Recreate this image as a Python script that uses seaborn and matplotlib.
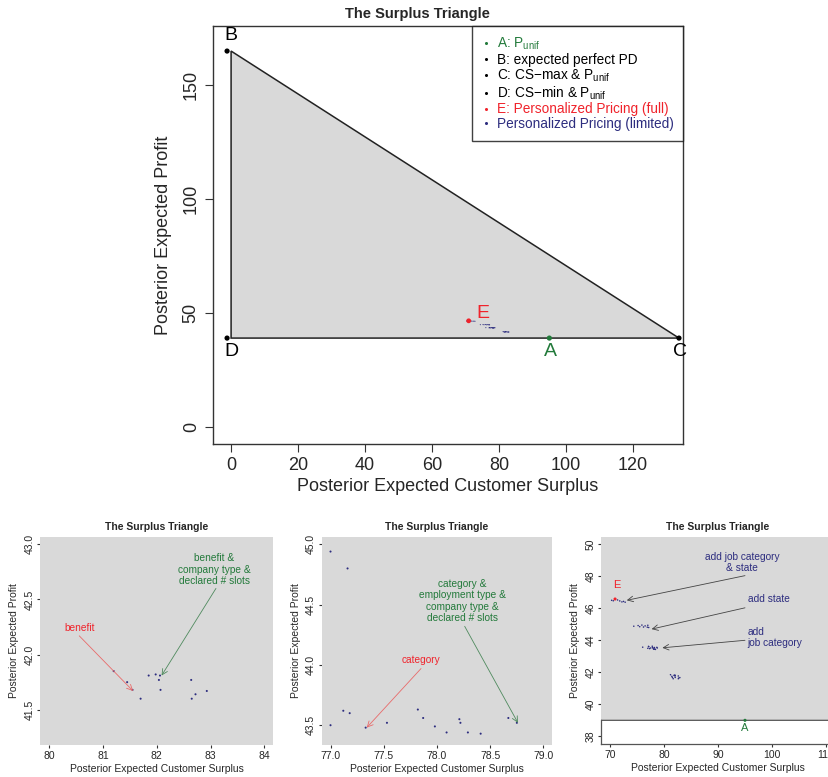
import matplotlib
matplotlib.use("Agg")
import matplotlib.pyplot as plt
from matplotlib.lines import Line2D
import pandas as pd
import seaborn as sns

sns.set_style("white")
plt.rcParams["font.family"] = ["Liberation Sans", "DejaVu Sans"]
plt.rcParams["mathtext.default"] = "regular"
plt.rcParams["mathtext.fontset"] = "custom"
plt.rcParams["mathtext.rm"] = "Liberation Sans"

GREEN = "#237a3b"
RED = "#f0232b"
NAVY = "#2d2d7f"
FILL = "#d9d9d9"

# Corner points of the surplus triangle
corner_names = ["A", "B", "C", "D"]
corner_cs = [95.0, -1.2, 133.7, -1.2]
corner_profit = [39.0, 165.0, 39.0, 39.0]
corner_colors = [GREEN, "black", "black", "black"]

# Triangle outline
tri_cs = [0.0, 133.7, 0.0]
tri_profit = [165.0, 39.0, 39.0]

# Personalized pricing with full information
full_cs = [70.93]
full_profit = [46.58]

# Personalized pricing with limited feature sets
lim_cs = [
    70.3, 70.6, 71.4, 71.8, 72.2, 72.5, 72.8,
    74.4, 75.2, 75.5, 75.9, 76.2, 76.5, 76.90, 77.00, 77.16,
    76.05, 77.00, 77.12, 77.18, 77.33, 77.53, 77.82, 77.87, 77.98,
    78.09, 78.21, 78.22, 78.29, 78.41, 78.67, 78.75,
    81.20, 81.45, 81.55, 81.70, 81.85, 81.98, 82.04, 82.06, 82.07,
    82.64, 82.65, 82.72, 82.93,
]
lim_profit = [
    46.50, 46.47, 46.52, 46.46, 46.40, 46.43, 46.38,
    44.88, 44.92, 44.85, 44.95, 44.83, 44.90, 44.82, 44.94, 44.80,
    43.57, 43.50, 43.62, 43.60, 43.48, 43.52, 43.63, 43.56, 43.49,
    43.44, 43.55, 43.52, 43.44, 43.43, 43.56, 43.52,
    41.85, 41.75, 41.68, 41.60, 41.81, 41.82, 41.77, 41.81, 41.68,
    41.77, 41.60, 41.64, 41.67,
]

corners = pd.DataFrame({"cs": corner_cs, "profit": corner_profit, "name": corner_names})
full = pd.DataFrame({"cs": full_cs, "profit": full_profit})
limited = pd.DataFrame({"cs": lim_cs, "profit": lim_profit})

TITLE = "The Surplus Triangle"
XLAB = "Posterior Expected Customer Surplus"
YLAB = "Posterior Expected Profit"

W, H = 829, 777
fig = plt.figure(figsize=(W / 100, H / 100), dpi=100)


def px_axes(left, top, right, bottom):
    return fig.add_axes([left / W, 1 - bottom / H, (right - left) / W, (bottom - top) / H])


def style_axes(ax, fs, ticklen, pad, xlabpad, ylabpad):
    ax.tick_params(axis="both", which="both", direction="out", length=ticklen,
                   width=0.8, color="#333333", labelsize=fs, pad=pad,
                   bottom=True, left=True, top=False, right=False)
    for lab in ax.get_yticklabels():
        lab.set_rotation(90)
        lab.set_va("center")
    ax.set_xlabel(XLAB, fontsize=fs, labelpad=xlabpad)
    ax.set_ylabel(YLAB, fontsize=fs, labelpad=ylabpad)


# ---------------- main triangle ----------------
ax = px_axes(213, 26, 683, 444)
ax.fill(tri_cs, tri_profit, facecolor=FILL, edgecolor="#222222", lw=1.1, zorder=1)
sns.scatterplot(data=corners, x="cs", y="profit", hue="name",
                palette=dict(zip(corner_names, corner_colors)), s=14,
                edgecolor="none", legend=False, ax=ax, zorder=3)
sns.scatterplot(data=full, x="cs", y="profit", color=RED, s=12,
                edgecolor="none", ax=ax, zorder=4)
sns.scatterplot(data=limited, x="cs", y="profit", color=NAVY, s=0.6,
                edgecolor="none", ax=ax, zorder=3)
ax.set_xlim(-5.4, 134.9)
ax.set_ylim(-7.5, 176)
ax.set_xticks([0, 20, 40, 60, 80, 100, 120])
ax.set_yticks([0, 50, 100, 150])
for s in ax.spines.values():
    s.set_color("#333333")
    s.set_linewidth(1.0)
style_axes(ax, 13, 5.5, 4, 3, 8)
fig.text(417 / W, 1 - 14 / H, TITLE, fontsize=10.5, fontweight="bold",
         ha="center", va="center")

ax.text(0, 172, "B", fontsize=14, ha="center", va="center", color="black")
ax.text(0, 32.9, "D", fontsize=14, ha="center", va="center", color="black")
ax.text(134, 32.9, "C", fontsize=14, ha="center", va="center", color="black")
ax.text(95.2, 32.9, "A", fontsize=14, ha="center", va="center", color=GREEN)
ax.text(75.2, 49.6, "E", fontsize=14, ha="center", va="center", color=RED)

handles = [Line2D([], [], ls="none", marker="o", ms=2.2, color=c, mec="none")
           for c in [GREEN, "black", "black", "black", RED, NAVY]]
labels = [r"A: P$_{unif}$", "B: expected perfect PD", r"C: CS$-$max & P$_{unif}$",
          r"D: CS$-$min & P$_{unif}$", "E: Personalized Pricing (full)",
          "Personalized Pricing (limited)"]
leg = ax.legend(handles, labels, loc="upper right", bbox_to_anchor=(1, 1),
                borderaxespad=0, fontsize=9.8, frameon=True, fancybox=False,
                handlelength=0.6, handletextpad=0.5, labelspacing=0.05,
                borderpad=0.7)
leg.get_frame().set_edgecolor("#111111")
leg.get_frame().set_linewidth(1.0)
for t, c in zip(leg.get_texts(), [GREEN, "black", "black", "black", RED, NAVY]):
    t.set_color(c)


def zoom_panel(left, right, xlim, ylim, xticks, yticks, yfmt):
    a = px_axes(left, 536.6, right, 745)
    a.fill(tri_cs, tri_profit, facecolor=FILL, edgecolor="#555555", lw=0.9, zorder=1)
    sns.scatterplot(data=limited, x="cs", y="profit", color=NAVY, s=2.2,
                    edgecolor="none", ax=a, zorder=3)
    a.set_xlim(*xlim)
    a.set_ylim(*ylim)
    a.set_xticks(xticks)
    a.set_yticks(yticks)
    a.set_yticklabels([yfmt.format(v) for v in yticks])
    for s in a.spines.values():
        s.set_visible(False)
    style_axes(a, 7.5, 2.2, 2, 2, 4)
    a.set_title(TITLE, fontsize=7.5, fontweight="bold", pad=5)
    return a


# ---------------- zoom 1 ----------------
a1 = zoom_panel(40.5, 273, (79.84, 84.16), (41.18, 43.07),
                [80, 81, 82, 83, 84], [41.5, 42.0, 42.5, 43.0], "{:.1f}")
a1.annotate("", xy=(81.56, 41.67), xytext=(80.56, 42.17),
            arrowprops=dict(arrowstyle="->", color="#e86a6a", lw=0.6,
                            shrinkA=0, shrinkB=0), zorder=4)
a1.text(80.57, 42.24, "benefit", color=RED, fontsize=7.3, ha="center", va="center")
a1.annotate("", xy=(82.09, 41.81), xytext=(83.1, 42.6),
            arrowprops=dict(arrowstyle="->", color="#4f8a5e", lw=0.6,
                            shrinkA=0, shrinkB=0), zorder=4)
a1.text(83.07, 42.77, "benefit &\ncompany type &\ndeclared # slots", color=GREEN,
        fontsize=7.3, ha="center", va="center", linespacing=1.15)

# ---------------- zoom 2 ----------------
a2 = zoom_panel(322, 552, (76.92, 79.08), (43.336, 45.064),
                [77.0, 77.5, 78.0, 78.5, 79.0], [43.5, 44.0, 44.5, 45.0], "{:.1f}")
a2.annotate("", xy=(77.34, 43.48), xytext=(77.85, 43.97),
            arrowprops=dict(arrowstyle="->", color="#e86a6a", lw=0.6,
                            shrinkA=0, shrinkB=0), zorder=4)
a2.text(77.85, 44.04, "category", color=RED, fontsize=7.3, ha="center", va="center")
a2.annotate("", xy=(78.76, 43.52), xytext=(78.26, 44.32),
            arrowprops=dict(arrowstyle="->", color="#4f8a5e", lw=0.6,
                            shrinkA=0, shrinkB=0), zorder=4)
a2.text(78.24, 44.53, "category &\nemployment type &\ncompany type &\ndeclared # slots",
        color=GREEN, fontsize=7.3, ha="center", va="center", linespacing=1.15)

# ---------------- zoom 3 ----------------
a3 = px_axes(601.4, 536.6, 834.6, 744)
a3.fill(tri_cs, tri_profit, facecolor=FILL, edgecolor="#555555", lw=0.9, zorder=1)
sns.scatterplot(data=limited, x="cs", y="profit", color=NAVY, s=1.2,
                edgecolor="none", ax=a3, zorder=3)
sns.scatterplot(data=full, x="cs", y="profit", color=RED, s=5,
                edgecolor="none", ax=a3, zorder=4)
sns.scatterplot(data=corners[corners["name"] == "A"], x="cs", y="profit",
                color=GREEN, s=5, edgecolor="none", ax=a3, zorder=4)
a3.set_xlim(68.4, 111.6)
a3.set_ylim(37.52, 50.48)
a3.set_xticks([70, 80, 90, 100, 110])
a3.set_yticks([38, 40, 42, 44, 46, 48, 50])
a3.spines["top"].set_visible(False)
a3.spines["left"].set_bounds(37.52, 39.0)
a3.spines["right"].set_bounds(37.52, 39.0)
for s in a3.spines.values():
    s.set_color("#555555")
    s.set_linewidth(0.9)
style_axes(a3, 7.5, 2.2, 2, 2, 4)
a3.set_title(TITLE, fontsize=7.5, fontweight="bold", pad=5)
a3.text(71.2, 47.45, "E", color=RED, fontsize=8, ha="center", va="center")
a3.text(95.0, 38.54, "A", color=GREEN, fontsize=8, ha="center", va="center")

arrow_kw = dict(arrowstyle="->", color="#444444", lw=0.6, shrinkA=0, shrinkB=0)
a3.annotate("", xy=(73.1, 46.5), xytext=(95.0, 48.04), arrowprops=arrow_kw, zorder=4)
a3.text(94.5, 48.86, "add job category\n& state", color=NAVY, fontsize=7.3,
        ha="center", va="center", linespacing=1.15)
a3.annotate("", xy=(77.7, 44.7), xytext=(95.0, 46.03), arrowprops=arrow_kw, zorder=4)
a3.text(95.6, 46.55, "add state", color=NAVY, fontsize=7.3, ha="left", va="center")
a3.annotate("", xy=(79.7, 43.53), xytext=(95.0, 44.0), arrowprops=arrow_kw, zorder=4)
a3.text(95.5, 44.18, "add\njob category", color=NAVY, fontsize=7.3, ha="left",
        va="center", linespacing=1.15)

fig.savefig("out.png", dpi=100)
